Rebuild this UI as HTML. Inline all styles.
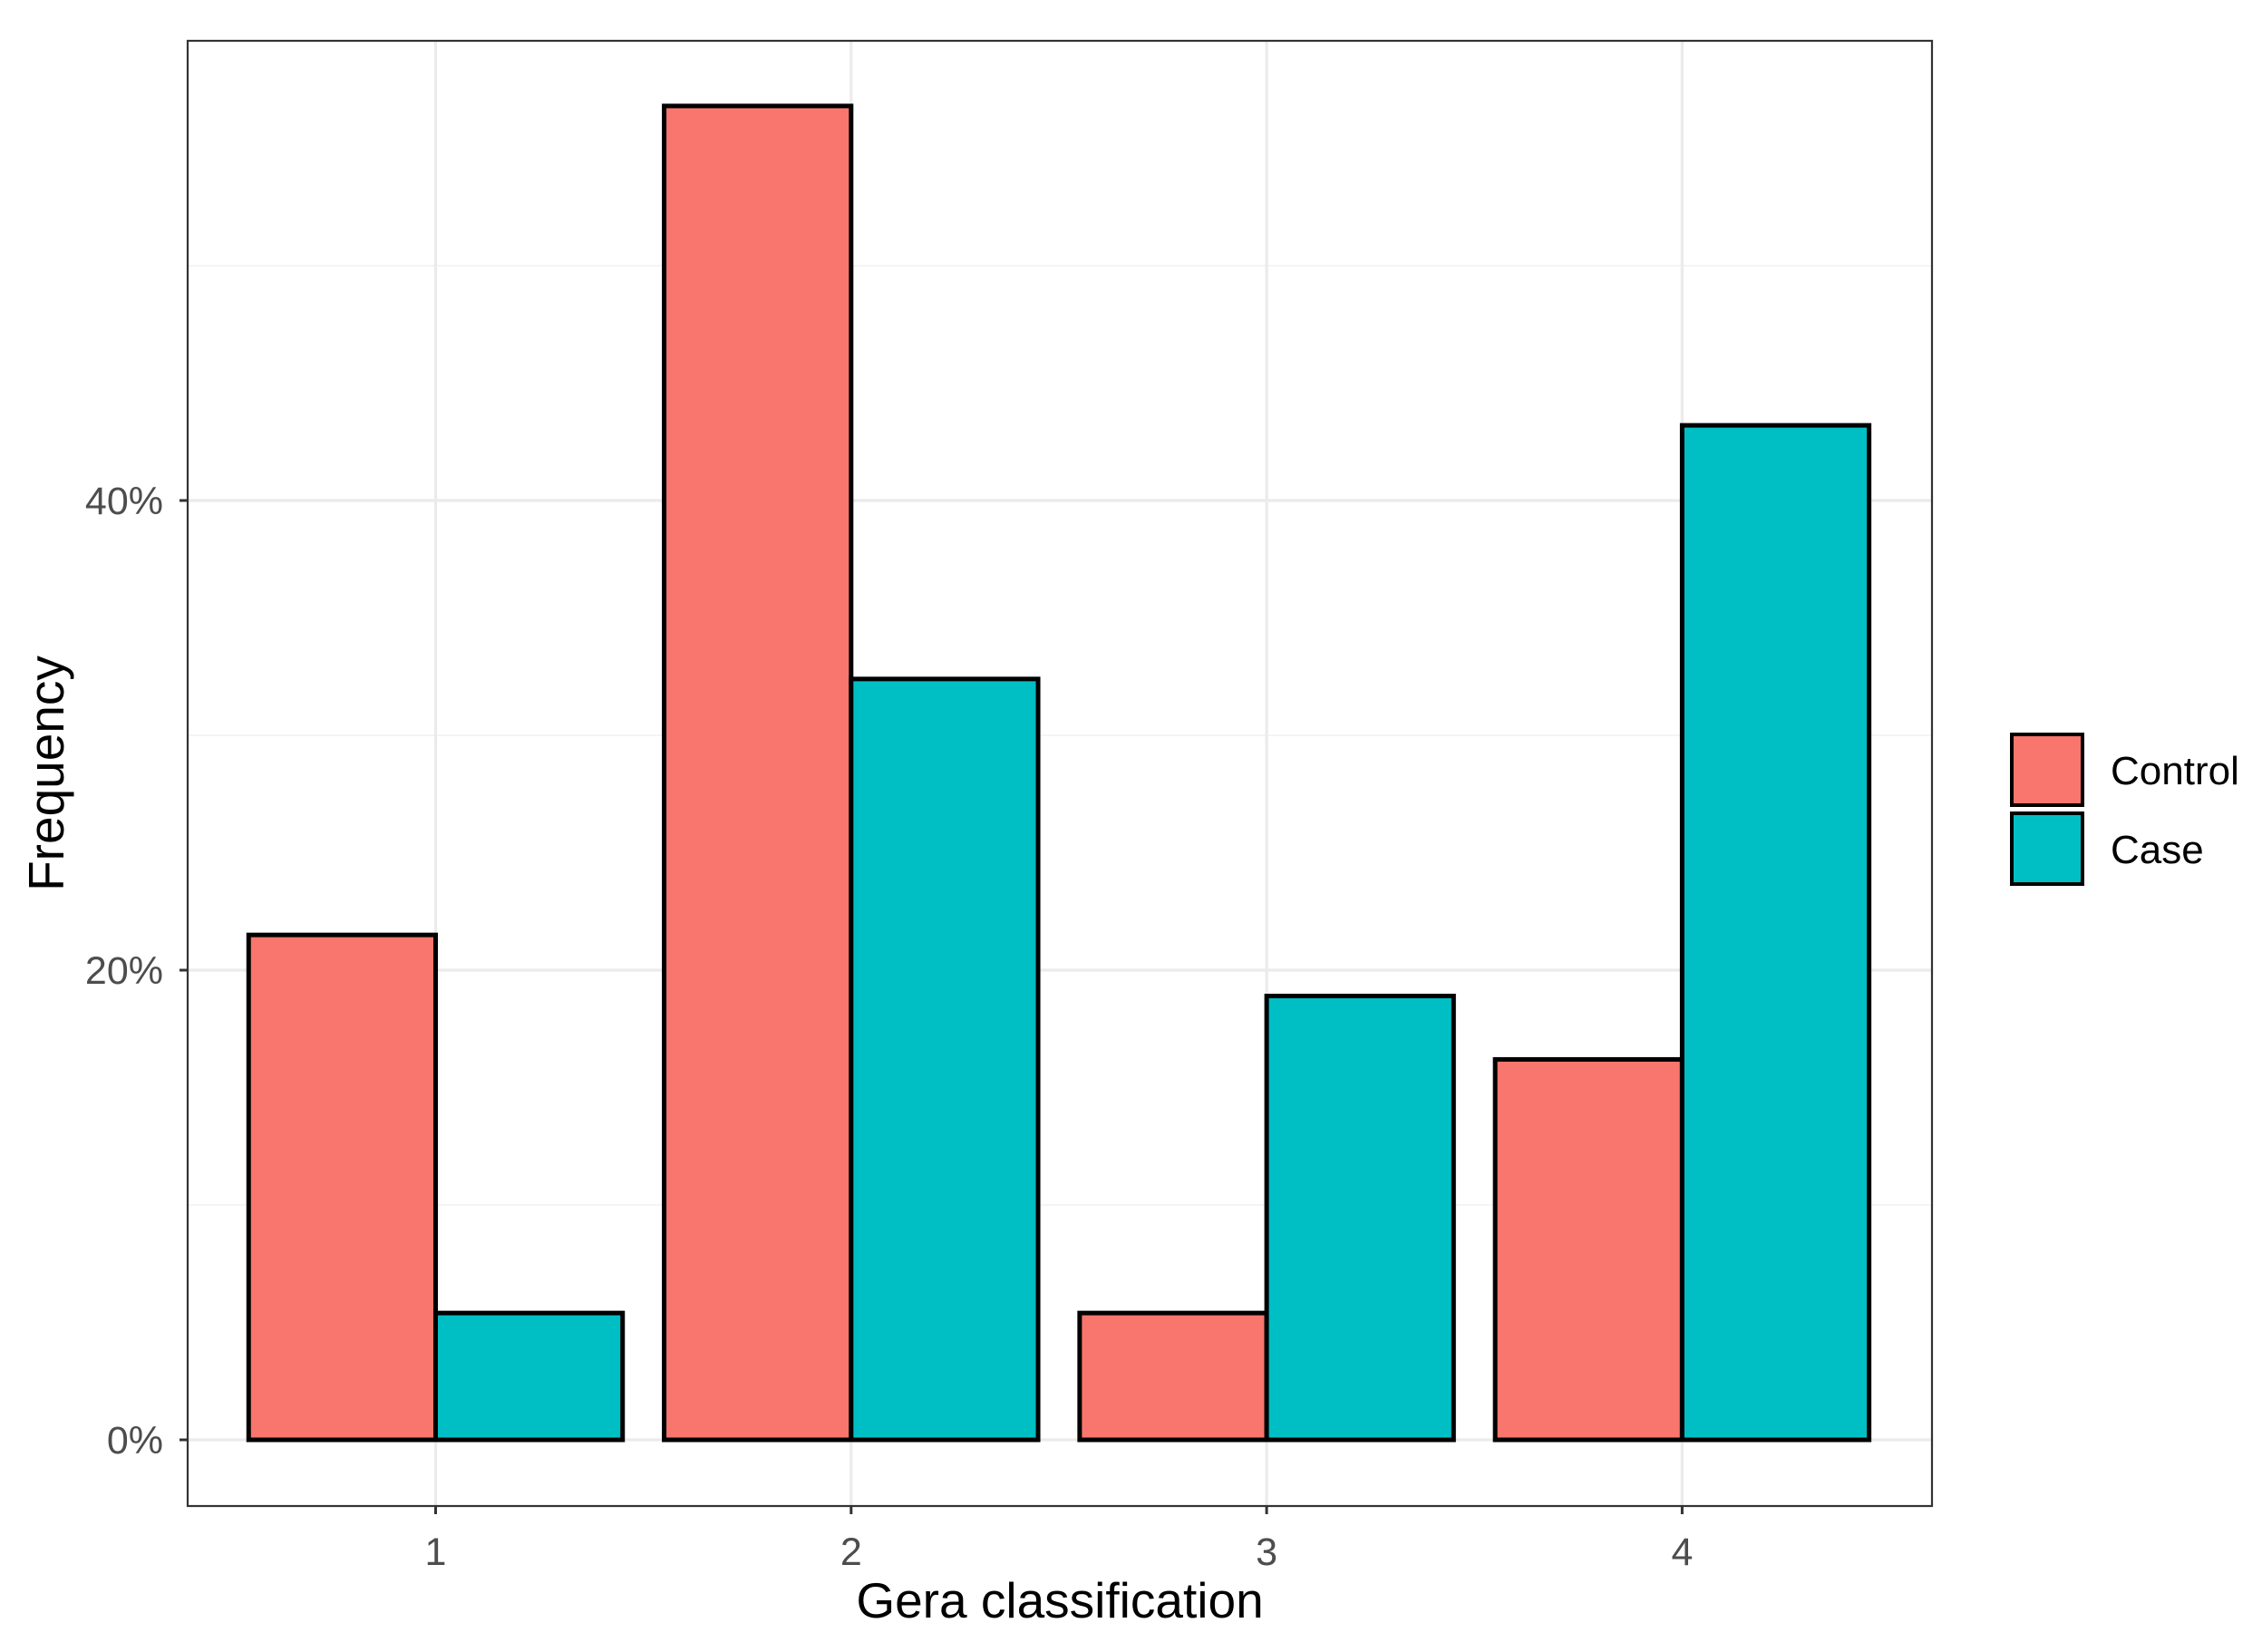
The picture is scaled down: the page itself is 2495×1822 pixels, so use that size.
<!DOCTYPE html>
<html><head><meta charset="utf-8"><style>
html,body{margin:0;padding:0;background:#fff;}
svg{display:block;font-family:"Liberation Sans",sans-serif;}
</style></head><body>
<svg id="chart" width="2495" height="1822" viewBox="0 0 2495 1822"></svg>
<script>
const categories = ["1","2","3","4"];
const controlValues = [21.5, 56.8, 5.4, 16.2];
const caseValues = [5.4, 32.4, 18.9, 43.2];
const yTickValues = [0, 20, 40];
const yTickLabels = ["0%","20%","40%"];
const yMinorValues = [10, 30, 50];
const seriesNames = ["Control","Case"];
const seriesColors = ["#F8766D","#00BFC4"];

const NS="http://www.w3.org/2000/svg";
const svg=document.getElementById('chart');
const P={l:207,r:2131,t:45,b:1661};
const y0=1588, pxPerPct=(1588-552)/40;
function yScale(v){return y0 - v*pxPerPct;}
const x1=480.5, step=458.3;
function xScale(i){return x1 + i*step;}
function mk(tag,attrs,parent){const e=document.createElementNS(NS,tag);for(const k in attrs)e.setAttribute(k,attrs[k]);(parent||svg).appendChild(e);return e;}

mk('rect',{x:P.l,y:P.t,width:P.r-P.l,height:P.b-P.t,fill:'#fff'});
yMinorValues.forEach(v=>{
  const g=mk('line',{x1:P.l,x2:P.r,y1:yScale(v),y2:yScale(v),stroke:'#f0f0f0','stroke-width':1.6});
  
  
});
yTickValues.forEach(v=>{
  const g=mk('line',{x1:P.l,x2:P.r,y1:yScale(v),y2:yScale(v),stroke:'#ebebeb','stroke-width':3.2});
  
  
});
categories.forEach((c,i)=>{
  const g=mk('line',{x1:xScale(i),x2:xScale(i),y1:P.t,y2:P.b,stroke:'#ebebeb','stroke-width':3.2});
  
  
});
const bw=step*0.45;
[controlValues,caseValues].forEach((vals,s)=>{
  vals.forEach((v,i)=>{
    const x=xScale(i)-bw+s*bw;
    const r=mk('rect',{x:x,y:yScale(v),width:bw,height:yScale(0)-yScale(v),fill:seriesColors[s],stroke:'#000','stroke-width':5});
    
    
  });
});
const border=mk('rect',{x:P.l,y:P.t,width:P.r-P.l,height:P.b-P.t,fill:'none',stroke:'#333','stroke-width':2.2});



yTickValues.forEach((v,i)=>{
  mk('line',{x1:P.l-9,x2:P.l,y1:yScale(v),y2:yScale(v),stroke:'#333','stroke-width':3});
  const t=mk('text',{x:180,y:yScale(v)+15,'text-anchor':'end','font-size':43,fill:'#4d4d4d'});
  t.textContent=yTickLabels[i];
  
  
});
categories.forEach((c,i)=>{
  mk('line',{x1:xScale(i),x2:xScale(i),y1:P.b,y2:P.b+9,stroke:'#333','stroke-width':3});
  const t=mk('text',{x:xScale(i),y:1726,'text-anchor':'middle','font-size':43,fill:'#4d4d4d'});
  t.textContent=c;
  
  
});
const xt=mk('text',{x:1169,y:1784,'text-anchor':'middle','font-size':55,fill:'#000'});
xt.textContent='Gera classification';


const yt=mk('text',{x:0,y:0,'text-anchor':'middle','font-size':55,fill:'#000',transform:'translate(70,853) rotate(-90)'});
yt.textContent='Frequency';



seriesNames.forEach((n,s)=>{
  const ky=810+s*87;
  const k=mk('rect',{x:2219,y:ky,width:78,height:78,fill:seriesColors[s],stroke:'#000','stroke-width':4});
  
  
  const t=mk('text',{x:2328,y:ky+55,'font-size':44,fill:'#000'});
  t.textContent=n;
  
  
});
</script>
</body></html>
